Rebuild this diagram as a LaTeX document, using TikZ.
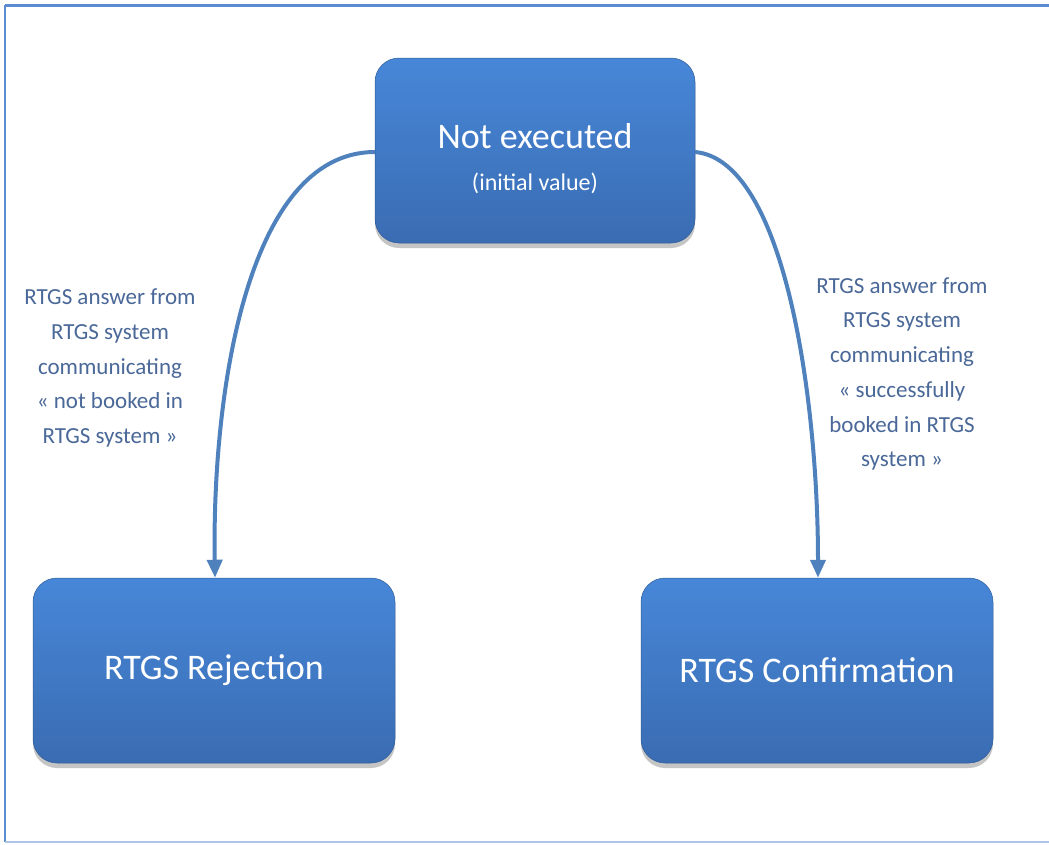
\documentclass[tikz,border=0pt]{standalone}
\usepackage{fontspec}
\setmainfont{Carlito}
\usetikzlibrary{shadows,arrows.meta}
\definecolor{boxtop}{HTML}{4787D8}
\definecolor{boxbot}{HTML}{3A6CB2}
\definecolor{linec}{HTML}{4F81BD}
\definecolor{labc}{HTML}{4A6898}
\definecolor{framec}{HTML}{5B8BD0}
\tikzset{
  statebox/.style={rounded corners=24pt, top color=boxtop, bottom color=boxbot,
    draw=boxbot!85!black, line width=0.5pt, text=white, align=center,
    drop shadow={opacity=0.45, shadow xshift=0pt, shadow yshift=-5pt}},
  trans/.style={draw=linec, line width=4pt, -{Triangle[length=18pt,width=15pt]}},
  lab/.style={text=labc, align=center, font=\fontsize{23}{34.7}\selectfont}
}
\begin{document}
\begin{tikzpicture}[x=1pt,y=-1pt]
\useasboundingbox (0,0) rectangle (1049,844);
\fill[white] (0,0) rectangle (1049,844);
\draw[framec, line width=3pt] (1049,5) -- (5,5);
\draw[framec, line width=2pt] (5,5) -- (5,842);
\draw[framec!50, line width=2pt] (5,842) -- (1049,842);

\node[statebox, minimum width=320pt, minimum height=185pt,
  label={[text=white, align=center, yshift=-8pt, font=\fontsize{24}{42}\selectfont]center:{\fontsize{36}{40}\selectfont Not executed}\\(initial value)}] (ne) at (535,150.5) {};
\node[statebox, minimum width=362pt, minimum height=185pt, font=\fontsize{36}{40}\selectfont] (rej) at (214,670.5) {RTGS Rejection};
\node[statebox, minimum width=352pt, minimum height=185pt, font=\fontsize{36}{40}\selectfont] (conf) at (817,670.5) {RTGS Confirmation};

\coordinate (a1) at (375,152);
\coordinate (a2) at (695,152);
\draw[trans] (a1) .. controls (245,152) and (212,400) .. (rej.north -| 215,0);
\draw[trans] (a2) .. controls (785,160) and (818,400) .. (conf.north -| 818,0);

\node[lab] (l1) at (110,368) {RTGS answer from\\RTGS system\\communicating\\« not booked in\\RTGS system »};
\node[lab] (l2) at (902,374) {RTGS answer from\\RTGS system\\communicating\\« successfully\\booked in RTGS\\system »};
\end{tikzpicture}
\end{document}
